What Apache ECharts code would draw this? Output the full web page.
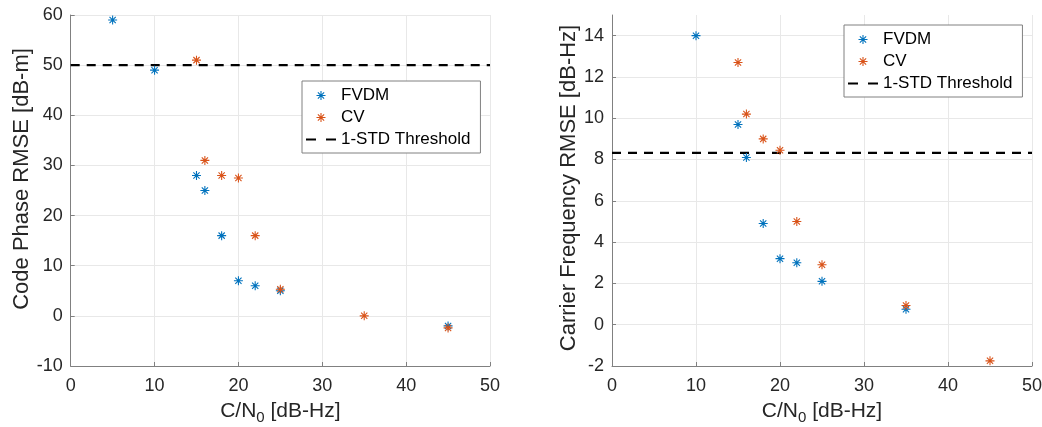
<!DOCTYPE html>
<html><head><meta charset="utf-8">
<script src="https://cdn.jsdelivr.net/npm/echarts@6/dist/echarts.min.js"></script>
<style>html,body{margin:0;padding:0;background:#fff}#c{width:1042px;height:427px}</style>
</head><body><div id="c"></div>
<script>
// Left panel: Code Phase RMSE
var cpFvdmX = [5, 10, 15, 16, 18, 20, 22, 25, 45];
var cpFvdmY = [59, 49, 28, 25, 16, 7, 6, 5, -2];
var cpCvX = [15, 16, 18, 20, 22, 25, 35, 45];
var cpCvY = [51, 31, 28, 27.5, 16, 5.3, 0, -2.4];
var cpThreshold = 50;
// Right panel: Carrier Frequency RMSE
var cfFvdmX = [10, 15, 16, 18, 20, 22, 25, 35];
var cfFvdmY = [14, 9.7, 8.1, 4.9, 3.2, 3.0, 2.1, 0.75];
var cfCvX = [15, 16, 18, 20, 22, 25, 35, 45];
var cfCvY = [12.7, 10.2, 9.0, 8.45, 5.0, 2.9, 0.93, -1.75];
var cfThreshold = 8.32;
var xRange = [0, 50];
var seriesNames = ['FVDM', 'CV', '1-STD Threshold'];

var BLUE = '#0072BD', ORANGE = '#D95319';
var AST = 'path://M-1.2,-10 L1.2,-10 L1.2,10 L-1.2,10 Z M-10,-1.2 L10,-1.2 L10,1.2 L-10,1.2 Z M-6.1,-7.8 L7.8,6.1 L6.1,7.8 L-7.8,-6.1 Z M-6.1,7.8 L-7.8,6.1 L6.1,-7.8 L7.8,-6.1 Z';
var FONT = '"Liberation Sans", Arial, Helvetica, sans-serif';
var DASH = [9, 7];
function zip(xs, ys){ return xs.map(function(x,i){return [x, ys[i]];}); }

var chart = echarts.init(document.getElementById('c'), null, {renderer:'canvas'});
function xAxis(gi){
  return {type:'value', gridIndex:gi, min:xRange[0], max:xRange[1], interval:10,
    name:'{a|C/N}{s|0}{a| [dB-Hz]}', nameLocation:'middle', nameGap:32,
    nameTextStyle:{rich:{a:{fontSize:21,fontFamily:FONT,color:'#262626'},
      s:{fontSize:15,fontFamily:FONT,color:'#262626',padding:[12,0,0,0]}}},
    axisLine:{onZero:false,lineStyle:{color:'#808080',width:1}},
    axisTick:{inside:true,length:4,lineStyle:{color:'#808080'}},
    axisLabel:{fontSize:18,fontFamily:FONT,color:'#262626',margin:11},
    splitLine:{show:true,lineStyle:{color:'#e8e8e8',width:1}}};
}
function yAxis(gi, min, max, interval, name, gap, pad, hideMax){
  return {type:'value', gridIndex:gi, min:min, max:max, interval:interval,
    name:name, nameLocation:'middle', nameGap:gap,
    nameTextStyle:{fontSize:22,fontFamily:FONT,color:'#262626',padding:pad},
    axisLine:{show:true,onZero:false,lineStyle:{color:'#808080',width:1}},
    axisTick:{show:true,inside:true,length:4,lineStyle:{color:'#808080'}},
    axisLabel:{fontSize:18,fontFamily:FONT,color:'#262626',margin:8,showMaxLabel:!hideMax},
    splitLine:{show:true,showMaxLine:!hideMax,lineStyle:{color:'#e8e8e8',width:1}}};
}
function scatter(name, gi, data, color){
  return {name:name, type:'scatter', xAxisIndex:gi, yAxisIndex:gi, data:data,
    symbol:AST, symbolSize:9, itemStyle:{color:color, opacity:1}, z:3};
}
function thresh(gi, val){
  return {name:'1-STD Threshold', type:'line', xAxisIndex:gi, yAxisIndex:gi,
    data:[[xRange[0], val],[xRange[1], val]], symbol:'none', showSymbol:false,
    lineStyle:{color:'#000', width:2.2, type:DASH}, itemStyle:{color:'#000'}, z:2};
}
function legend(gi, left, top){
  return {orient:'vertical', left:left, top:top,
    data:[{name:seriesNames[0],icon:AST},{name:seriesNames[1],icon:AST},
          {name:seriesNames[2],icon:'path://M0,0 L9,0 L9,2 L0,2 Z M18,0 L27,0 L27,2 L18,2 Z',
           itemStyle:{color:'#000'}}],
    itemWidth:30, itemHeight:9, itemGap:5,
    padding:[6,10,5,4], borderColor:'#808080', borderWidth:1, backgroundColor:'#fff',
    textStyle:{fontSize:17,fontFamily:FONT,color:'#000'},
    selectedMode:false};
}
var opt = {
  animation:false,
  grid:[{left:70.7, right:552, top:15, bottom:61, outerBoundsMode:'none', containLabel:false},
        {left:612, right:10, top:15, bottom:61, outerBoundsMode:'none', containLabel:false}],
  xAxis:[xAxis(0), xAxis(1)],
  yAxis:[yAxis(0,-10,60,10,'Code Phase RMSE [dB-m]',36,[0,0,0,23],false),
         yAxis(1,-2,15,2,'Carrier Frequency RMSE [dB-Hz]',24,[0,0,0,5],true)],
  legend:[legend(0,302,81), legend(1,844,25)],
  series:[scatter('FVDM',0,zip(cpFvdmX,cpFvdmY),BLUE),
          scatter('CV',0,zip(cpCvX,cpCvY),ORANGE),
          thresh(0,cpThreshold),
          scatter('FVDM',1,zip(cfFvdmX,cfFvdmY),BLUE),
          scatter('CV',1,zip(cfCvX,cfCvY),ORANGE),
          thresh(1,cfThreshold)]
};
chart.setOption(opt);
</script></body></html>
